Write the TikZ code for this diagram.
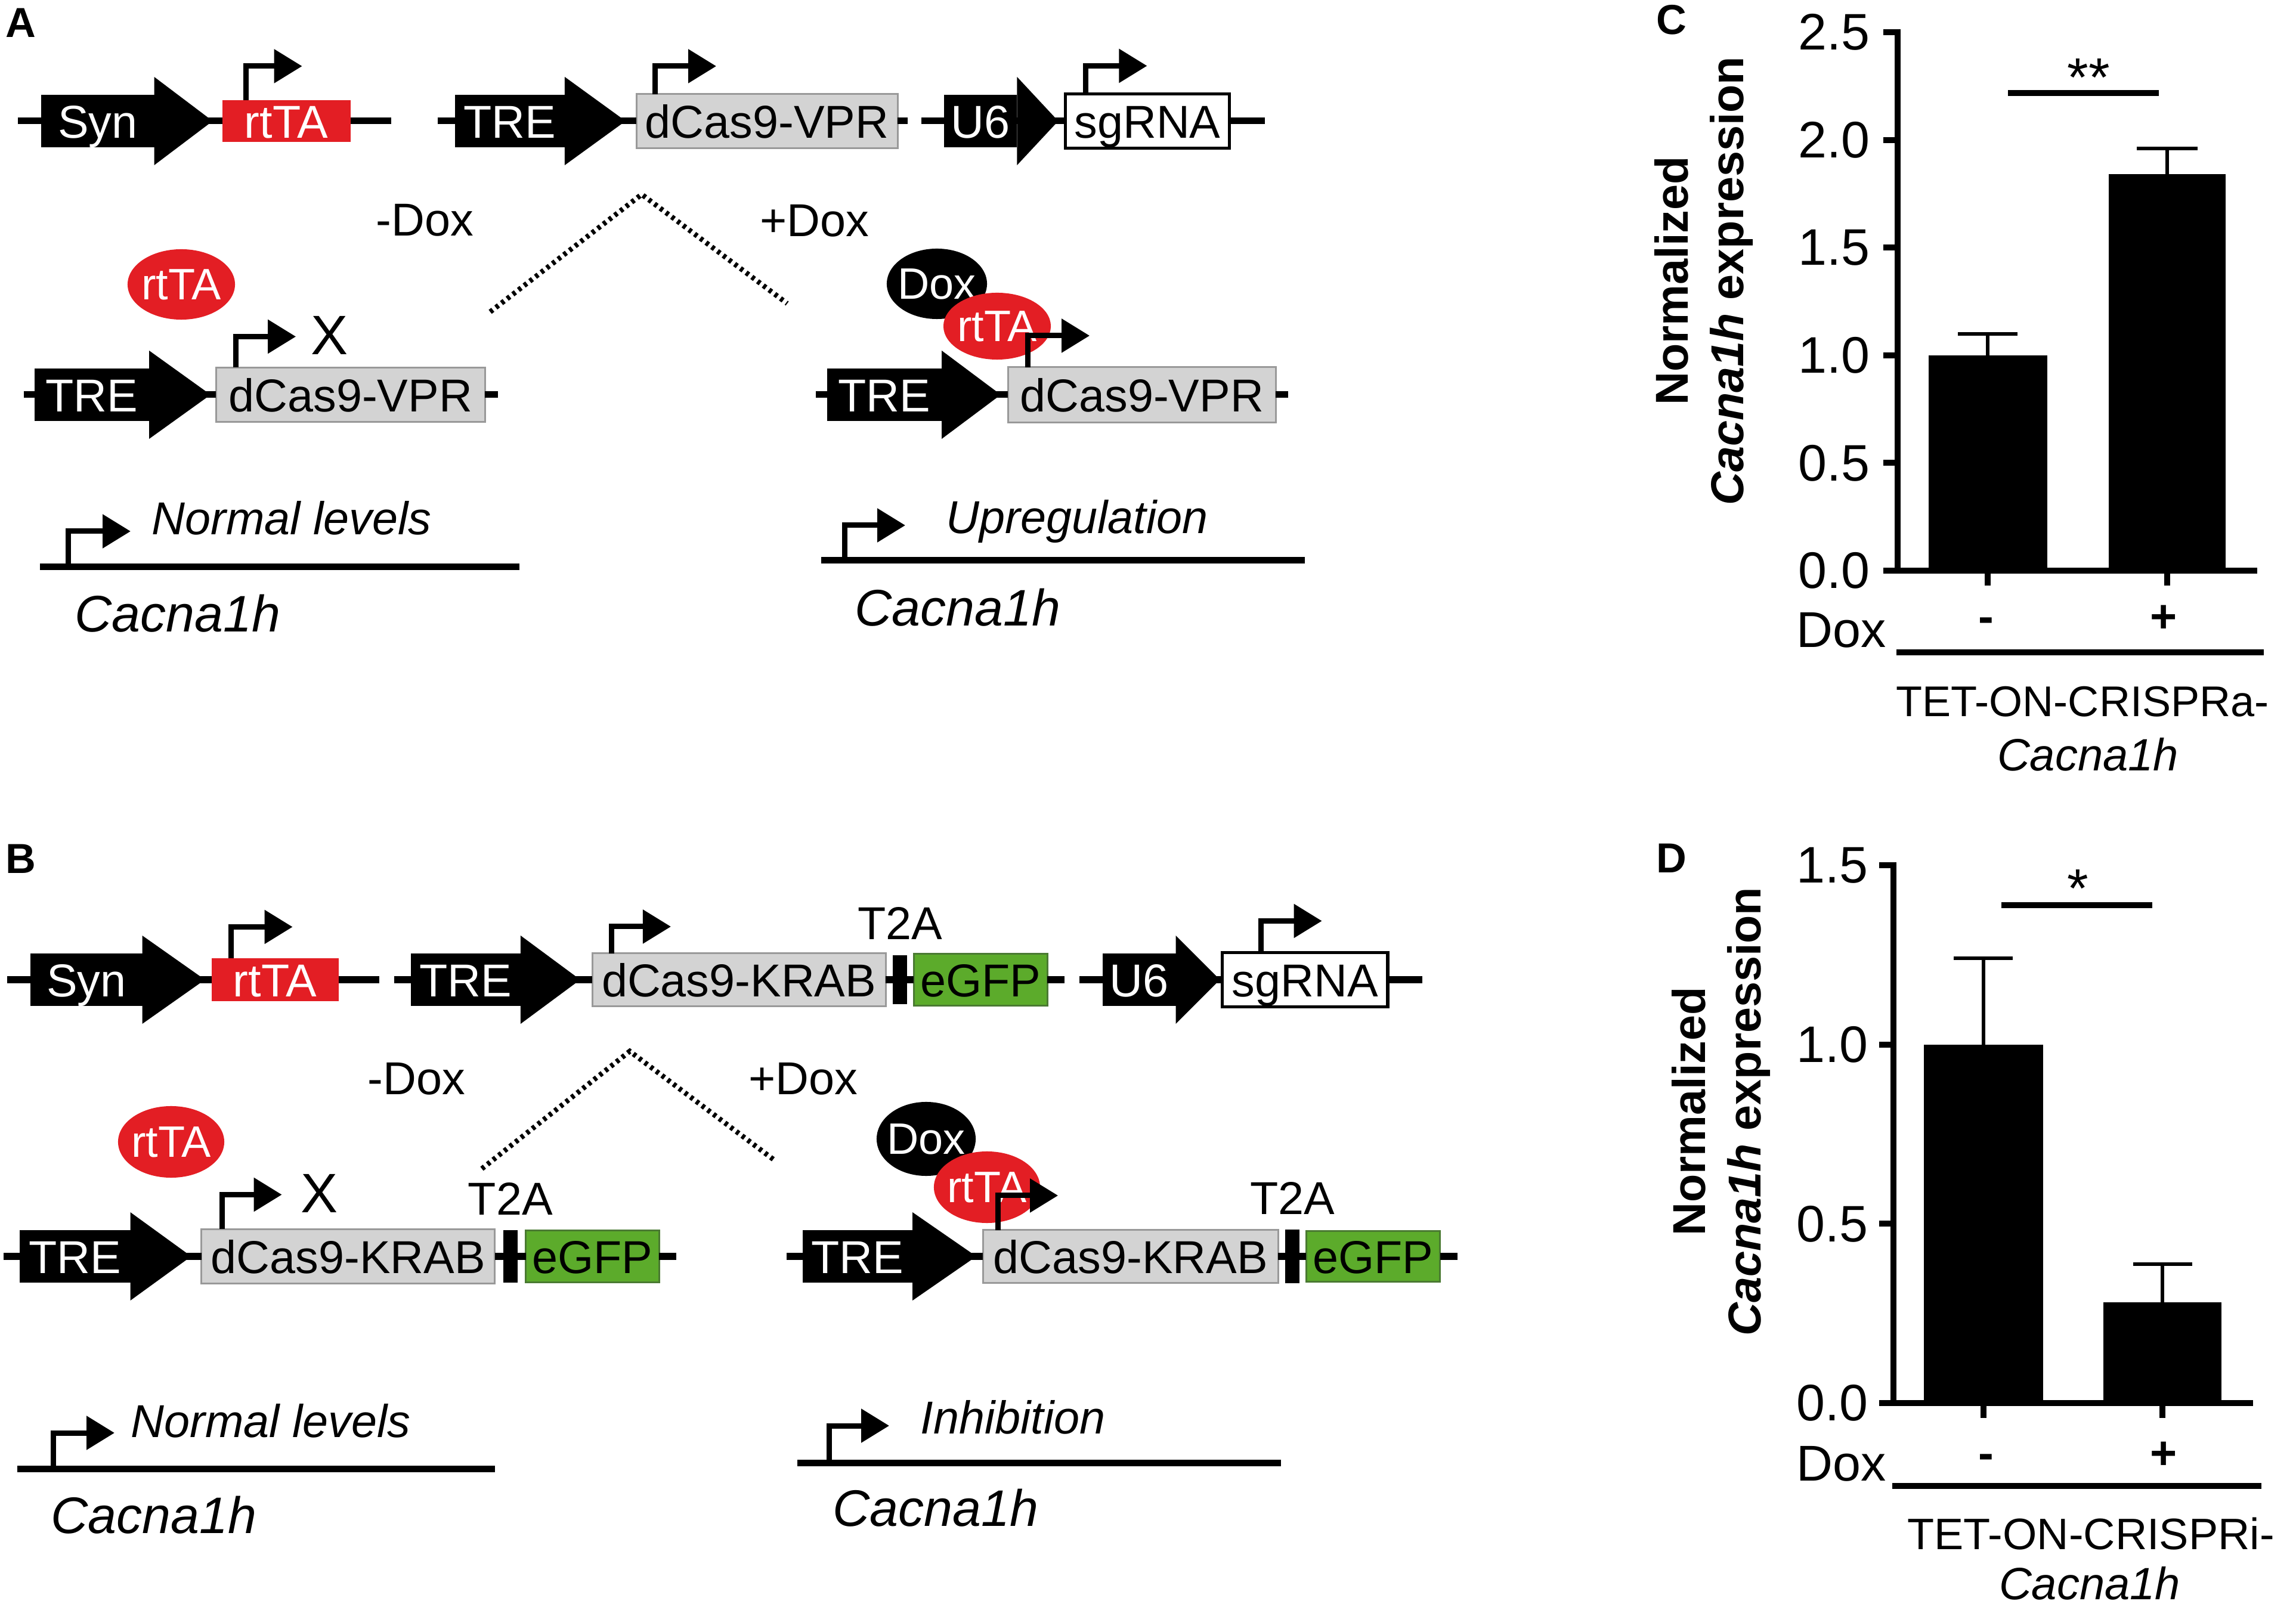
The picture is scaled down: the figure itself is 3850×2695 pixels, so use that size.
\documentclass[tikz,border=0pt]{standalone}
\usepackage{fontspec}
\setmainfont{Liberation Sans}
\usetikzlibrary{positioning, arrows.meta, shapes.geometric}
\definecolor{rtta_red}{HTML}{E31E24}
\definecolor{cas_gray}{HTML}{D3D3D3}
\definecolor{cas_edge}{HTML}{999999}
\definecolor{gfp_green}{HTML}{5CAB2B}
\definecolor{gfp_edge}{HTML}{4A7A32}
\newcommand{\fsz}[1]{\fontsize{#1pt}{#1pt}\selectfont}

\begin{document}
\begin{tikzpicture}[x=0.01cm, y=-0.01cm,
    promo/.style={rectangle, fill=black, text=white, minimum height=0.88cm, inner sep=0pt, outer sep=0pt, font=\fsz{22}, text height=0.56cm, text depth=0pt},
    part/.style={rectangle, minimum height=0.9cm, inner sep=0pt, outer sep=0pt, font=\fsz{22}, text height=0.56cm, text depth=0pt},
    casbox/.style={part, fill=cas_gray, draw=cas_edge, line width=0.03cm},
    rttabox/.style={part, fill=rtta_red, text=white, minimum height=0.7cm},
    gfpbox/.style={part, fill=gfp_green, draw=gfp_edge, line width=0.03cm},
    sgbox/.style={part, fill=white, draw=black, line width=0.055cm},
    t2abar/.style={rectangle, fill=black, minimum width=0.24cm, inner sep=0pt, outer sep=0pt},
    blob/.style={ellipse, inner sep=0pt, text=white, font=\fsz{21}},
    dna/.style={line width=0.11cm},
    tss/.style={-{Triangle[length=0.47cm, width=0.55cm]}, line width=0.09cm},
    dots/.style={line width=0.085cm, dash pattern=on 0.055cm off 0.065cm},
    lbl/.style={inner sep=0pt, font=\fsz{22}},
    genename/.style={inner sep=0pt, font=\fsz{24.5}\itshape, anchor=base west},
    panel/.style={inner sep=0pt, font=\fsz{20}\bfseries, anchor=base west},
    axis/.style={line width=0.1cm},
    errbar/.style={line width=0.06cm},
    ticklbl/.style={inner sep=0pt, font=\fsz{24.5}, anchor=east},
    ylbl/.style={inner sep=0pt, rotate=90, align=center, font=\fontsize{22pt}{26.7pt}\selectfont\bfseries}]

  \useasboundingbox (0,0) rectangle (3850,2695);

  % Panel A, constructs
  \node[panel] (labA) at (9,63) {A};
  \node[promo, minimum width=1.89cm] (synA) at (164,203) {Syn};
  \node[rttabox, minimum width=2.15cm, right=1.14cm of synA] (rttaA) {rtTA};
  \node[promo, minimum width=1.84cm, right=1.75cm of rttaA] (treA) {TRE};
  \node[casbox, minimum width=4.38cm, right=1.20cm of treA] (vprA) {dCas9-VPR};
  \node[promo, minimum width=1.22cm, right=0.78cm of vprA] (u6A) {U6};
  \node[sgbox, minimum width=2.75cm, minimum height=0.91cm, right=0.81cm of u6A] (sgA) {sgRNA};
  \coordinate[left=0.39cm of synA] (a1s);
  \coordinate[right=0.68cm of rttaA] (a1e);
  \coordinate[left=0.29cm of treA] (a2s);
  \coordinate[right=0.17cm of vprA] (a2e);
  \coordinate[left=0.38cm of u6A] (a3s);
  \coordinate[right=0.59cm of sgA] (a3e);

  % -Dox
  \node[promo, minimum width=1.92cm] (treA2) at (154,662) {TRE};
  \node[casbox, minimum width=4.51cm, minimum height=0.91cm, right=1.12cm of treA2] (vprA2) {dCas9-VPR};
  \coordinate[left=0.18cm of treA2] (a4s);
  \coordinate[right=0.22cm of vprA2] (a4e);

  % +Dox
  \node[promo, minimum width=1.92cm] (treA3) at (1483,662) {TRE};
  \node[casbox, minimum width=4.49cm, minimum height=0.92cm, right=1.11cm of treA3] (vprA3) {dCas9-VPR};
  \coordinate[left=0.19cm of treA3] (a5s);
  \coordinate[right=0.21cm of vprA3] (a5e);

  % Panel B, constructs
  \node[panel] (labB) at (9,1465) {B};
  \node[promo, minimum width=1.87cm] (synB) at (145,1643) {Syn};
  \node[rttabox, minimum width=2.13cm, minimum height=0.71cm, right=1.16cm of synB] (rttaB) {rtTA};
  \node[promo, minimum width=1.84cm, right=1.21cm of rttaB] (treB) {TRE};
  \node[casbox, minimum width=4.92cm, minimum height=0.88cm, right=1.20cm of treB] (krabB) {dCas9-KRAB};
  \node[t2abar, minimum height=0.82cm, right=0.12cm of krabB] (barB) {};
  \node[gfpbox, minimum width=2.24cm, minimum height=0.87cm, right=0.11cm of barB] (gfpB) {eGFP};
  \node[promo, minimum width=1.23cm, right=0.92cm of gfpB] (u6B) {U6};
  \node[sgbox, minimum width=2.77cm, minimum height=0.91cm, right=0.78cm of u6B] (sgB) {sgRNA};
  \node[lbl, above=0.26cm of barB] (t2aB) {T2A};
  \coordinate[left=0.39cm of synB] (b1s);
  \coordinate[right=0.68cm of rttaB] (b1e);
  \coordinate[left=0.28cm of treB] (b2s);
  \coordinate[right=0.29cm of gfpB] (b2e);
  \coordinate[left=0.38cm of u6B] (b3s);
  \coordinate[right=0.58cm of sgB] (b3e);

  % -Dox
  \node[promo, minimum width=1.85cm] (treB2) at (126,2107) {TRE};
  \node[casbox, minimum width=4.92cm, minimum height=0.91cm, right=1.19cm of treB2] (krabB2) {dCas9-KRAB};
  \node[t2abar, minimum height=0.88cm, right=0.14cm of krabB2] (barB2) {};
  \node[gfpbox, minimum width=2.23cm, minimum height=0.86cm, right=0.14cm of barB2] (gfpB2) {eGFP};
  \node[lbl, above=0.25cm of barB2] (t2aB2) {T2A};
  \coordinate[left=0.27cm of treB2] (b4s);
  \coordinate[right=0.29cm of gfpB2] (b4e);

  % +Dox
  \node[promo, minimum width=1.84cm] (treB3) at (1438,2107) {TRE};
  \node[casbox, minimum width=4.95cm, minimum height=0.88cm, right=1.18cm of treB3] (krabB3) {dCas9-KRAB};
  \node[t2abar, minimum height=0.90cm, right=0.12cm of krabB3] (barB3) {};
  \node[gfpbox, minimum width=2.24cm, minimum height=0.85cm, right=0.11cm of barB3] (gfpB3) {eGFP};
  \node[lbl, above=0.25cm of barB3] (t2aB3) {T2A};
  \coordinate[left=0.27cm of treB3] (b5s);
  \coordinate[right=0.29cm of gfpB3] (b5e);

  % Promoter heads
  \foreach \n/\h in {synA/0.98, treA/1.02, u6A/0.69, treA2/1.03, treA3/0.99,
                     synB/1.05, treB/1.00, u6B/0.74, treB2/1.02, treB3/1.07}
    \fill ([yshift=0.3cm]\n.north east) -- ([xshift=\h cm]\n.east) -- ([yshift=-0.3cm]\n.south east) -- cycle;

  % Backbones
  \draw[dna] (a1s) -- (synA.west) (synA.east) -- (rttaA.west) (rttaA.east) -- (a1e);
  \draw[dna] (a2s) -- (treA.west) (treA.east) -- (vprA.west) (vprA.east) -- (a2e);
  \draw[dna] (a3s) -- (u6A.west) (u6A.east) -- (sgA.west) (sgA.east) -- (a3e);
  \draw[dna] (a4s) -- (treA2.west) (treA2.east) -- (vprA2.west) (vprA2.east) -- (a4e);
  \draw[dna] (a5s) -- (treA3.west) (treA3.east) -- (vprA3.west) (vprA3.east) -- (a5e);
  \draw[dna] (b1s) -- (synB.west) (synB.east) -- (rttaB.west) (rttaB.east) -- (b1e);
  \draw[dna] (b2s) -- (treB.west) (treB.east) -- (krabB.west) (krabB.east) -- (barB.west) (barB.east) -- (gfpB.west) (gfpB.east) -- (b2e);
  \draw[dna] (b3s) -- (u6B.west) (u6B.east) -- (sgB.west) (sgB.east) -- (b3e);
  \draw[dna] (b4s) -- (treB2.west) (treB2.east) -- (krabB2.west) (krabB2.east) -- (barB2.west) (barB2.east) -- (gfpB2.west) (gfpB2.east) -- (b4e);
  \draw[dna] (b5s) -- (treB3.west) (treB3.east) -- (krabB3.west) (krabB3.east) -- (barB3.west) (barB3.east) -- (gfpB3.west) (gfpB3.east) -- (b5e);

  % rtTA and Dox
  \node[blob, fill=rtta_red, minimum width=1.80cm, minimum height=1.18cm] (freeA) at (304,477) {\makebox[0pt]{rtTA}};
  \node[blob, fill=black, minimum width=1.68cm, minimum height=1.18cm] (doxA) at (1571,476) {\makebox[0pt]{Dox}};
  \node[blob, fill=rtta_red, minimum width=1.80cm, minimum height=1.12cm] (boundA) at (1672,547) {\makebox[0pt]{rtTA}};
  \node[blob, fill=rtta_red, minimum width=1.78cm, minimum height=1.20cm] (freeB) at (287,1915) {\makebox[0pt]{rtTA}};
  \node[blob, fill=black, minimum width=1.66cm, minimum height=1.24cm] (doxB) at (1553,1910) {\makebox[0pt]{Dox}};
  \node[blob, fill=rtta_red, minimum width=1.78cm, minimum height=1.20cm] (boundB) at (1655,1991) {\makebox[0pt]{rtTA}};

  % Transcription starts
  \draw[tss] ([xshift=0.40cm]rttaA.north west) |- ++(94,-57);
  \draw[tss] ([xshift=0.31cm]vprA.north west) |- ++(103,-47);
  \draw[tss] ([xshift=0.34cm]sgA.north west) |- ++(103,-47);
  \draw[tss] ([xshift=0.33cm]vprA2.north west) |- ++(101,-52);
  \draw[tss] ([xshift=0.33cm]vprA3.north west) |- ++(104,-53);
  \draw[tss] ([xshift=0.33cm]rttaB.north west) |- ++(103,-53);
  \draw[tss] ([xshift=0.32cm]krabB.north west) |- ++(100,-45);
  \draw[tss] ([xshift=0.65cm]sgB.north west) |- ++(102,-53);
  \draw[tss] ([xshift=0.35cm]krabB2.north west) |- ++(100,-58);
  \draw[tss] ([xshift=0.25cm]krabB3.north west) |- ++(101,-58);
  \node[lbl, font=\fsz{26.5}] (offA) at (553,562) {X};
  \node[lbl, font=\fsz{26.5}] (offB) at (536,2001) {X};

  % Dox branches
  \node[lbl, anchor=base west] (minusA) at (630,396) {-Dox};
  \node[lbl, anchor=base west] (plusA) at (1274,397) {+Dox};
  \coordinate (dA1) at (822,523);
  \coordinate (dA2) at (1076,326);
  \coordinate (dA3) at (1320,509);
  \draw[dots] (dA1) -- (dA2) -- (dA3);
  \node[lbl, anchor=base west] (minusB) at (616,1835) {-Dox};
  \node[lbl, anchor=base west] (plusB) at (1255,1836) {+Dox};
  \coordinate (dB1) at (808,1960);
  \coordinate (dB2) at (1056,1763);
  \coordinate (dB3) at (1299,1946);
  \draw[dots] (dB1) -- (dB2) -- (dB3);

  % Cacna1h loci
  \coordinate (gA1s) at (67,951);
  \coordinate (gA1e) at (871,951);
  \coordinate[right=0.47cm of gA1s] (pA1);
  \draw[dna] (gA1s) -- (gA1e);
  \draw[tss] (pA1) |- ++(105,-60);
  \node[lbl, font=\fsz{22}\itshape, anchor=base west] (normA) at (254,897) {Normal levels};
  \node[genename] (geneA1) at (125,1060) {Cacna1h};

  \coordinate (gA2s) at (1377,940);
  \coordinate (gA2e) at (2188,940);
  \coordinate[right=0.39cm of gA2s] (pA2);
  \draw[dna] (gA2s) -- (gA2e);
  \draw[tss] (pA2) |- ++(102,-59);
  \node[lbl, font=\fsz{22}\itshape, anchor=base west] (upA) at (1586,895) {Upregulation};
  \node[genename] (geneA2) at (1433,1050) {Cacna1h};

  \coordinate (gB1s) at (29,2463);
  \coordinate (gB1e) at (830,2463);
  \coordinate[right=0.60cm of gB1s] (pB1);
  \draw[dna] (gB1s) -- (gB1e);
  \draw[tss] (pB1) |- ++(103,-60);
  \node[lbl, font=\fsz{22}\itshape, anchor=base west] (normB) at (219,2410) {Normal levels};
  \node[genename] (geneB1) at (85,2571) {Cacna1h};

  \coordinate (gB2s) at (1337,2453);
  \coordinate (gB2e) at (2148,2453);
  \coordinate[right=0.53cm of gB2s] (pB2);
  \draw[dna] (gB2s) -- (gB2e);
  \draw[tss] (pB2) |- ++(101,-62);
  \node[lbl, font=\fsz{22}\itshape, anchor=base west] (inhB) at (1543,2404) {Inhibition};
  \node[genename] (geneB2) at (1396,2559) {Cacna1h};

  % Panel C, CRISPRa expression
  \node[panel] (labC) at (2777,58) {C};
  \draw[axis] (3182,49) -- (3182,957);
  \draw[axis] (3158,957) -- (3785,957);
  \foreach \v [count=\i] in {0.0,0.5,1.0,1.5,2.0,2.5} {
    \draw[axis] (3158,{957-361.2*\v}) -- (3182,{957-361.2*\v});
    \node[ticklbl] (ytC\i) at (3136,{957-361.2*\v}) {\v};
  }
  \fill (3234,957) rectangle (3433,596);
  \fill (3536,957) rectangle (3732,292);
  \draw[errbar] (3333,596) -- (3333,560) (3283,560) -- (3383,560);
  \draw[errbar] (3634,292) -- (3634,249) (3583,249) -- (3685,249);
  \draw[axis] (3367,156) -- (3620,156);
  \node[lbl, font=\fsz{26}, anchor=base] (sigC) at (3502,162) {**};
  \draw[axis] (3333,957) -- (3333,982) (3634,957) -- (3634,982);
  \node[lbl, font=\fsz{24}, anchor=base west] (doxC) at (3012,1086) {Dox};
  \node[lbl, font=\fsz{22}\bfseries, anchor=base] (negC) at (3330,1061) {-};
  \node[lbl, font=\fsz{22}\bfseries, anchor=base] (posC) at (3628,1061) {+};
  \draw[axis] (3180,1094) -- (3796,1094);
  \node[lbl, font=\fsz{20.5}, anchor=base] (vecC) at (3492,1202) {TET-ON-CRISPRa-};
  \node[lbl, font=\fsz{21.6}\itshape, anchor=base] (geneC) at (3501,1293) {Cacna1h};
  \node[ylbl] (yC) at (2857,471) {Normalized\\\textit{Cacna1h} expression};

  % Panel D, CRISPRi expression
  \node[panel] (labD) at (2777,1464) {D};
  \draw[axis] (3175,1446) -- (3175,2353);
  \draw[axis] (3151,2353) -- (3778,2353);
  \foreach \v [count=\i] in {0.0,0.5,1.0,1.5} {
    \draw[axis] (3151,{2353-601.3*\v}) -- (3175,{2353-601.3*\v});
    \node[ticklbl] (ytD\i) at (3133,{2353-601.3*\v}) {\v};
  }
  \fill (3226,2353) rectangle (3426,1752);
  \fill (3527,2353) rectangle (3725,2184);
  \draw[errbar] (3326,1752) -- (3326,1607) (3276,1607) -- (3375,1607);
  \draw[errbar] (3626,2184) -- (3626,2120) (3577,2120) -- (3676,2120);
  \draw[axis] (3356,1518) -- (3609,1518);
  \node[lbl, font=\fsz{26}, anchor=base] (sigD) at (3484,1522) {*};
  \draw[axis] (3326,2353) -- (3326,2378) (3626,2353) -- (3626,2378);
  \node[lbl, font=\fsz{24}, anchor=base west] (doxD) at (3012,2483) {Dox};
  \node[lbl, font=\fsz{22}\bfseries, anchor=base] (negD) at (3330,2463) {-};
  \node[lbl, font=\fsz{22}\bfseries, anchor=base] (posD) at (3628,2463) {+};
  \draw[axis] (3173,2492) -- (3792,2492);
  \node[lbl, font=\fsz{21}, anchor=base] (vecD) at (3506,2598) {TET-ON-CRISPRi-};
  \node[lbl, font=\fsz{21.6}\itshape, anchor=base] (geneD) at (3504,2682) {Cacna1h};
  \node[ylbl] (yD) at (2886,1864) {Normalized\\\textit{Cacna1h} expression};

\end{tikzpicture}
\end{document}
